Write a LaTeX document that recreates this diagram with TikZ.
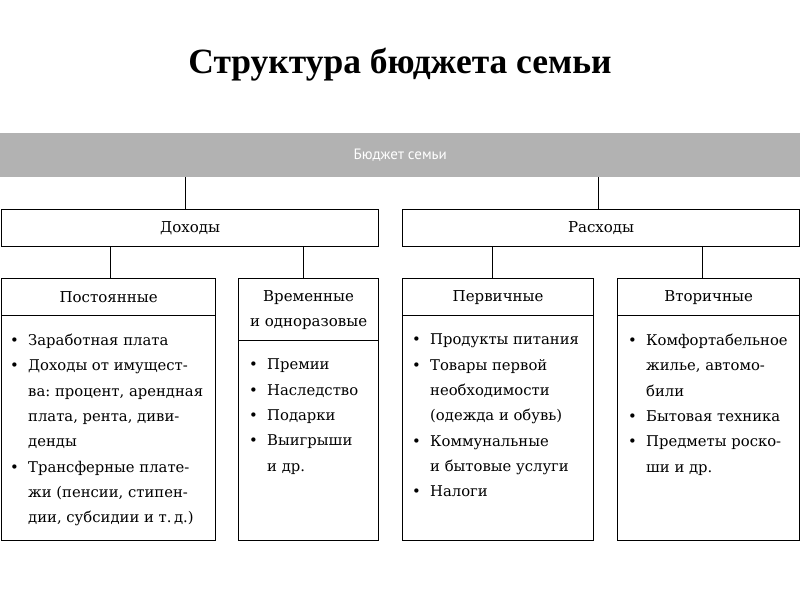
\documentclass[tikz,border=0pt]{standalone}
\usepackage{fontspec}
\setmainfont{DejaVu Serif}
\newfontfamily\titlefont{Liberation Serif}
\newfontfamily\barfont{PT Sans}
\usetikzlibrary{positioning}
\frenchspacing

% bullet and hanging indent for the lists
\newcommand{\bul}{\makebox[18pt][l]{\textbullet}}
\newcommand{\ind}{\hspace*{18pt}}

\begin{document}
\begin{tikzpicture}[x=1pt, y=-1pt,
  box/.style={draw, line width=1.2pt, anchor=north west, inner sep=0pt,
    font=\fontsize{15}{25}\selectfont},
  wire/.style={line width=1.1pt},
  items/.style={anchor=north west, align=left, inner sep=0pt,
    font=\fontsize{14.8}{25.3}\selectfont}]

  \useasboundingbox (0,0) rectangle (800,600);

  \node[font=\titlefont\bfseries\fontsize{35.5}{40}\selectfont] (title) at (400,65) {Структура бюджета семьи};

  % gray top bar
  \node[fill=gray!60, anchor=north west, inner sep=0pt, minimum width=800pt, minimum height=44pt,
    text=white, font=\barfont\fontsize{15}{17}\selectfont] (budget) at (0,133) {Бюджет семьи};

  % incomes / expenses
  \node[box, minimum width=377pt, minimum height=37pt] (income) at (1,209) {Доходы};
  \node[box, minimum width=397pt, minimum height=37pt] (expense) at (402,209) {Расходы};

  % headers
  \node[box, minimum width=214pt, minimum height=37pt] (const) at (1,278) {Постоянные};
  \node[box, minimum width=140pt, minimum height=62pt, align=center] (temp) at (238,278) {Временные\\и одноразовые};
  \node[box, minimum width=191pt, minimum height=37pt] (prim) at (402,278) {Первичные};
  \node[box, minimum width=182pt, minimum height=37pt] (sec) at (617,278) {Вторичные};

  % bodies
  \node[box, minimum width=214pt, minimum height=225pt] (constbody) at (1,315) {};
  \node[box, minimum width=140pt, minimum height=200pt] (tempbody) at (238,340) {};
  \node[box, minimum width=191pt, minimum height=225pt] (primbody) at (402,315) {};
  \node[box, minimum width=182pt, minimum height=225pt] (secbody) at (617,315) {};

  \node[items] (constlist) at (10,334) {\bul Заработная плата\\
    \bul Доходы от имущест-\\ \ind ва: процент, арендная\\ \ind плата, рента, диви-\\ \ind денды\\
    \bul Трансферные плате-\\ \ind жи (пенсии, стипен-\\ \ind дии, субсидии и т.\,д.)};
  \node[items] (templist) at (249,359) {\bul Премии\\ \bul Наследство\\ \bul Подарки\\
    \bul Выигрыши\\ \ind и др.};
  \node[items] (primlist) at (412,334) {\bul Продукты питания\\
    \bul Товары первой\\ \ind необходимости\\ \ind (одежда и обувь)\\
    \bul Коммунальные\\ \ind и бытовые услуги\\ \bul Налоги};
  \node[items] (seclist) at (628,334) {\bul Комфортабельное\\ \ind жилье, автомо-\\ \ind били\\
    \bul Бытовая техника\\ \bul Предметы роско-\\ \ind ши и др.};

  % connectors
  \draw[wire] ([xshift=-5pt]income.north) -- ([xshift=-5pt]income.north |- budget.south);
  \draw[wire] ([xshift=-3pt]expense.north) -- ([xshift=-3pt]expense.north |- budget.south);
  \draw[wire] ([xshift=2pt]const.north) -- ([xshift=2pt]const.north |- income.south);
  \draw[wire] ([xshift=-5pt]temp.north) -- ([xshift=-5pt]temp.north |- income.south);
  \draw[wire] ([xshift=-6pt]prim.north) -- ([xshift=-6pt]prim.north |- expense.south);
  \draw[wire] ([xshift=-6pt]sec.north) -- ([xshift=-6pt]sec.north |- expense.south);

\end{tikzpicture}
\end{document}
